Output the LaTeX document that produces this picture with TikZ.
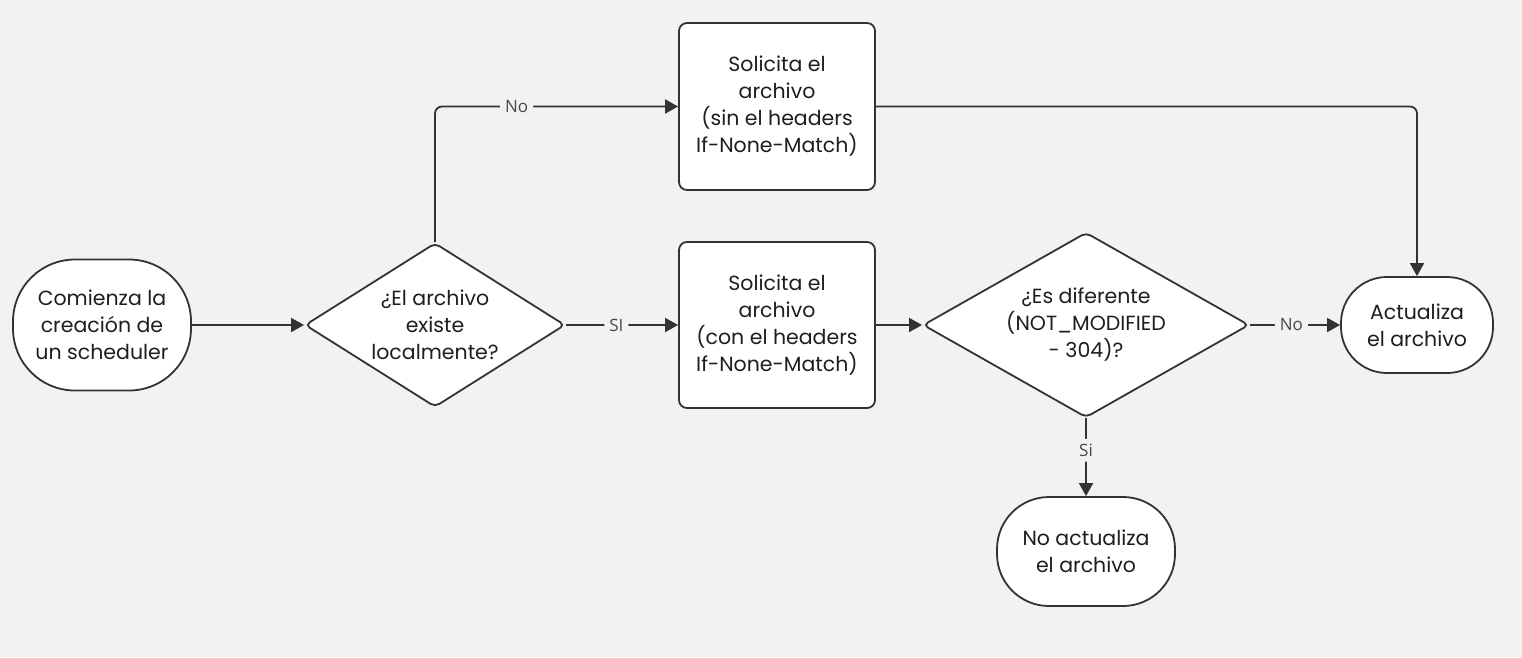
\documentclass[tikz,border=0pt]{standalone}
\usepackage{fontspec}
\setmainfont{Poppins}
\newfontfamily\labelfont{Open Sans}
\usetikzlibrary{shapes.geometric,arrows.meta}
\definecolor{bg}{HTML}{F2F2F2}
\definecolor{ln}{HTML}{333333}
\definecolor{tx}{HTML}{1E1E1E}
\tikzset{
  base/.style={draw=ln, line width=1.8pt, fill=white, align=center, text=tx,
    font=\fontsize{20.5}{27}\selectfont, inner sep=0pt},
  procbox/.style={base, rectangle, rounded corners=8pt, minimum width=196pt, minimum height=167pt},
  termbox/.style={base, rectangle},
  decbox/.style={base, diamond, rounded corners=5pt},
  conn/.style={draw=ln, line width=1.8pt, rounded corners=7pt, -{Triangle[length=13pt,width=14pt]}},
  lbl/.style={font=\labelfont\fontsize{17}{19}\selectfont, fill=bg, text=ln!90, inner sep=5pt}
}
\begin{document}
\begin{tikzpicture}[x=1pt,y=-1pt]
\useasboundingbox[fill=bg] (0,0) rectangle (1522,657);
\node[termbox, minimum width=178pt, minimum height=131pt, rounded corners=62pt] (start) at (102,325) {Comienza la\\creación de\\un scheduler};
\node[decbox, minimum width=260pt, minimum height=164pt, aspect=1.585] (d1) at (435,325) {¿El archivo\\existe\\localmente?};
\node[procbox] (b1) at (777,106.5) {Solicita el\\archivo\\(sin el headers\\If-None-Match)};
\node[procbox, minimum height=166pt] (b2) at (777,325) {Solicita el\\archivo\\(con el headers\\If-None-Match)};
\node[decbox, minimum width=326pt, minimum height=185pt, aspect=1.762] (d2) at (1086,325) {¿Es diferente\\(NOT\_MODIFIED\\- 304)?};
\node[termbox, minimum width=152pt, minimum height=96pt, rounded corners=46pt] (act) at (1417,325) {Actualiza\\el archivo};
\node[termbox, minimum width=178pt, minimum height=109pt, rounded corners=52pt] (noact) at (1086,551.5) {No actualiza\\el archivo};

\draw[conn] (start) -- (d1);
\draw[conn] (d1.north) |- node[lbl, pos=0.668] {No} (b1.west);
\draw[conn] (d1.east) -- node[lbl, pos=0.45] {SI} (b2.west);
\draw[conn] (b2.east) -- (d2.west);
\draw[conn] (d2.east) -- node[lbl, pos=0.46] {No} (act.west);
\draw[conn] (d2.south) -- node[lbl, pos=0.41] {Si} (noact.north);
\draw[conn] (b1.east) -| (act.north);
\end{tikzpicture}
\end{document}
